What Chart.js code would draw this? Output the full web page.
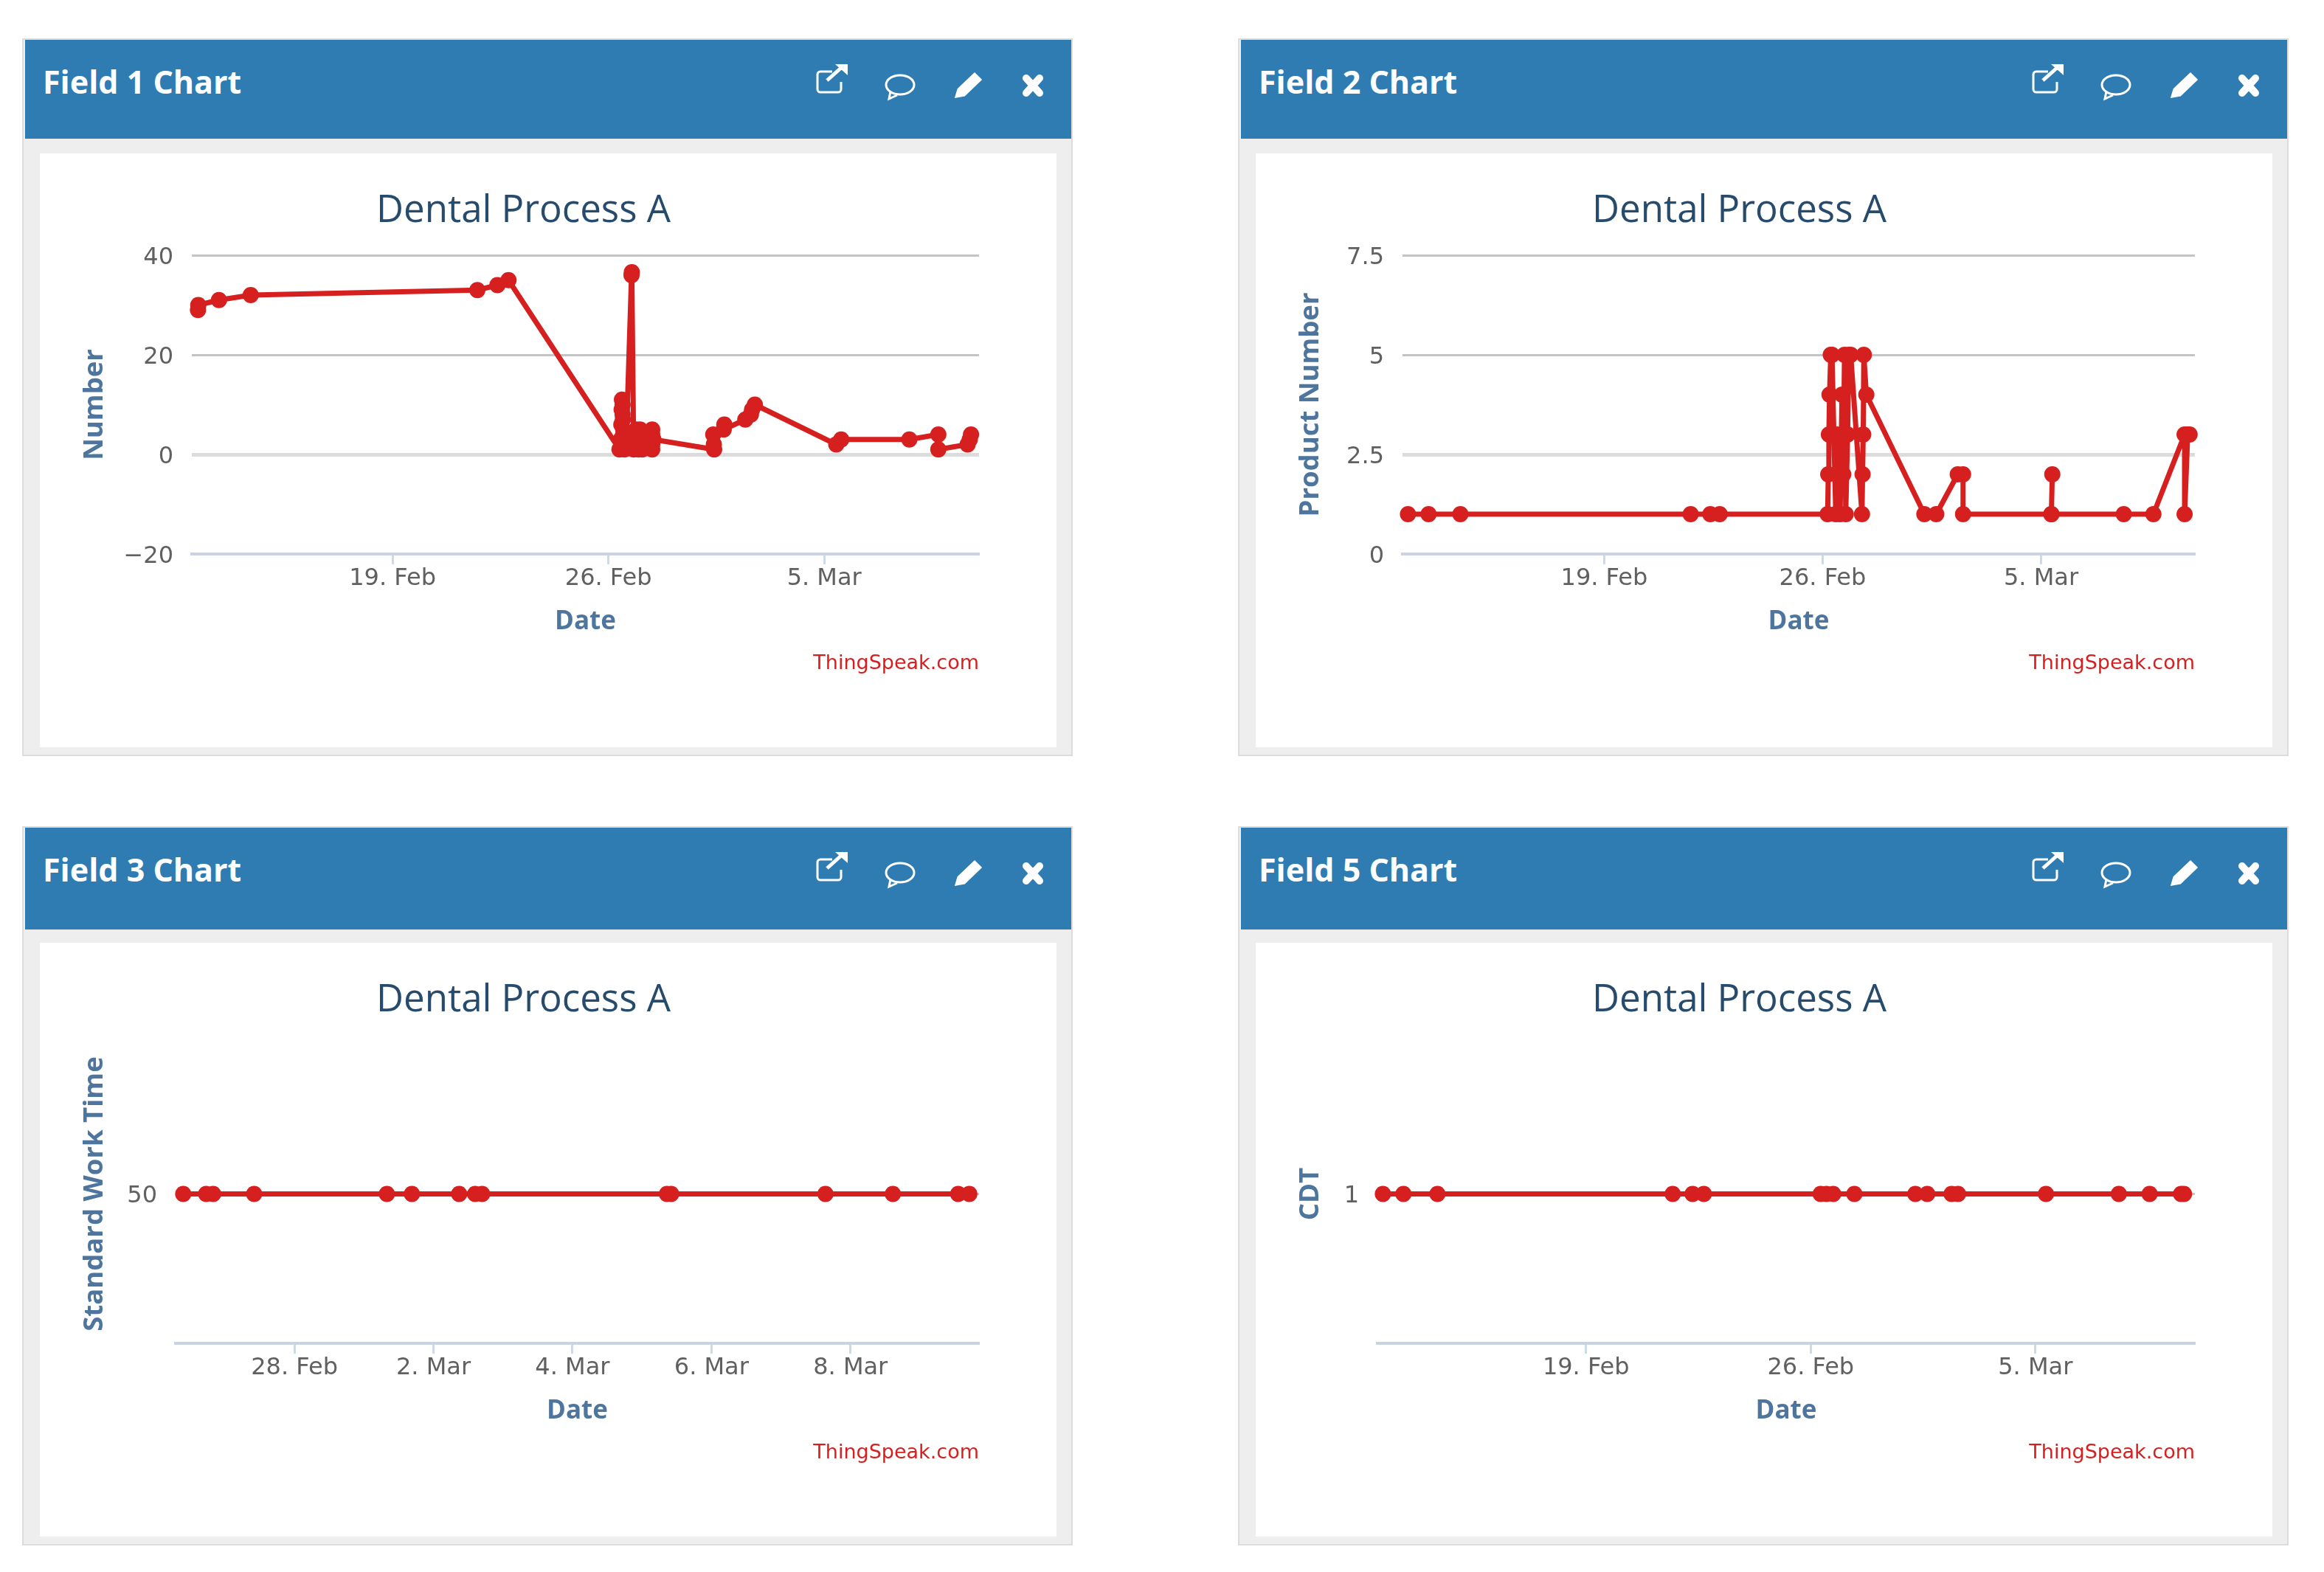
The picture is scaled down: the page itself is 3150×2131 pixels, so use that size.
<!DOCTYPE html>
<html>
<head>
<meta charset="utf-8">
<title>Dental Process A</title>
<script src="https://cdn.jsdelivr.net/npm/chart.js@4"></script>
<style>
  body { margin: 0; background: #fff; font-family: "Open Sans", sans-serif; }
  .panel { position: absolute; width: 1420px; background: #eeeeee; border: 2px solid #dcdcdc; }
  .head { position: absolute; left: 2px; top: 0; width: 1418px; background: #2e7cb1; }
  .head span { position: absolute; left: 24px; top: 30px; color: #fff; font-weight: 700; font-size: 43px; line-height: 54px; }
  .head svg { position: absolute; left: 0; top: 0; }
  .body { position: absolute; left: 22px; width: 1378px; height: 805px; background: #fff; }
  .credit { position: absolute; right: 105px; top: 672px; font-family: "DejaVu Sans", sans-serif; font-size: 27px; line-height: 36px; color: #d62020; }
  canvas { position: absolute; left: 0; top: 0; }
</style>
</head>
<body>
<script>
// days are counted from 1 Feb, so 5 Mar = 33
let field1Days = [12.69, 12.7, 13.37, 14.4, 21.75, 22.4, 22.76, 26.36, 26.4, 26.42, 26.43, 26.44, 26.46, 26.46, 26.47, 26.48, 26.48, 26.5, 26.52, 26.58, 26.75, 26.76, 26.82, 26.85, 26.88, 26.9, 26.93, 26.97, 27.0, 27.03, 27.06, 27.08, 27.1, 27.42, 27.42, 27.42, 27.42, 27.42, 27.46, 29.43, 29.42, 29.4, 29.76, 29.74, 30.44, 30.62, 30.66, 30.75, 33.39, 33.55, 35.76, 36.7, 36.7, 37.65, 37.72, 37.76];
let field1Values = [29, 30, 31, 32, 33, 34, 35, 1, 3, 6, 9, 11, 10, 8, 7, 5, 4, 2, 1, 3, 36, 36.6, 1, 2, 4, 5, 3, 1, 3, 5, 4, 2, 1, 1, 2, 3, 4, 5, 3, 1, 2, 4, 6, 5, 7, 8, 9, 10, 2, 3, 3, 4, 1, 2, 3, 4];
let field1YTicks = [-20, 0, 20, 40];
let field1YLabels = ['\u221220', '0', '20', '40'];
let field1XTicks = [19, 26, 33];
let field1XLabels = ['19. Feb', '26. Feb', '5. Mar'];

let field2Days = [12.71, 13.37, 14.39, 21.77, 22.4, 22.7, 26.16, 26.18, 26.2, 26.22, 26.26, 26.3, 26.42, 26.46, 26.5, 26.56, 26.62, 26.66, 26.7, 26.74, 26.8, 26.84, 26.9, 27.26, 27.28, 27.3, 27.32, 27.4, 29.26, 29.64, 30.33, 30.5, 30.5, 33.33, 33.36, 33.33, 35.65, 36.6, 37.6, 37.6, 37.7, 37.76];
let field2Values = [1, 1, 1, 1, 1, 1, 1, 2, 3, 4, 5, 5, 1, 3, 2, 1, 4, 2, 5, 1, 3, 5, 5, 1, 2, 3, 5, 4, 1, 1, 2, 2, 1, 1, 2, 1, 1, 1, 3, 1, 3, 3];
let field2YTicks = [0, 2.5, 5, 7.5];
let field2YLabels = ['0', '2.5', '5', '7.5'];
let field2XTicks = [19, 26, 33];
let field2XLabels = ['19. Feb', '26. Feb', '5. Mar'];

let field3Days = [26.4, 26.73, 26.83, 27.42, 29.33, 29.69, 30.37, 30.6, 30.7, 33.36, 33.42, 35.64, 36.61, 37.55, 37.71];
let field3Values = [50, 50, 50, 50, 50, 50, 50, 50, 50, 50, 50, 50, 50, 50, 50];
let field3YTicks = [50];
let field3YLabels = ['50'];
let field3XTicks = [28, 30, 32, 34, 36];
let field3XLabels = ['28. Feb', '2. Mar', '4. Mar', '6. Mar', '8. Mar'];

let field5Days = [12.67, 13.31, 14.37, 21.7, 22.32, 22.67, 26.31, 26.49, 26.7, 27.36, 29.26, 29.63, 30.39, 30.59, 33.33, 35.6, 36.56, 37.54, 37.63];
let field5Values = [1, 1, 1, 1, 1, 1, 1, 1, 1, 1, 1, 1, 1, 1, 1, 1, 1, 1, 1];
let field5YTicks = [1];
let field5YLabels = ['1'];
let field5XTicks = [19, 26, 33];
let field5XLabels = ['19. Feb', '26. Feb', '5. Mar'];

const lineRed = '#d62020';

// icons of the panel header, x/y relative to the header
const headIcons = `<svg width="1418" height="140" fill="none" stroke="#fff">
  <path d="M1094 43 h-16 a4 4 0 0 0 -4 4 v20 a4 4 0 0 0 4 4 h24 a4 4 0 0 0 4 -4 v-10" stroke-width="3"/>
  <path d="M1087 55 L1106 38" stroke-width="5"/>
  <path d="M1098 33 h17 v15 z" fill="#fff" stroke="none"/>
  <ellipse cx="1186" cy="61" rx="19" ry="13" stroke-width="3"/>
  <path d="M1173 70 l-2 10 l11 -5" stroke-width="3"/>
  <path d="M1262 77 l3 -10 l22 -21 l8 8 l-22 21 z" fill="#fff" stroke="#fff" stroke-width="3"/>
  <path d="M1357 52 L1375 72 M1375 52 L1357 72" stroke-width="10" stroke-linecap="round"/>
</svg>`;

function addPanel(left, top, extra, name, yTitle, days, values, yTicks, yLabels, xTicks, xLabels, yMin, yMax, xMin, xMax, yBox, softTick) {
  let panel = document.createElement('div');
  panel.className = 'panel';
  panel.style.left = left + 'px';
  panel.style.top = (top - extra) + 'px';
  panel.style.height = (969 + extra) + 'px';
  panel.innerHTML = '<div class="head" style="height:' + (134 + extra * 2) + 'px"><span>' + name + '</span>' + headIcons + '</div>'
    + '<div class="body" style="top:' + (154 + extra) + 'px"><canvas width="1310" height="805"></canvas><div class="credit">ThingSpeak.com</div></div>';
  document.body.appendChild(panel);

  new Chart(panel.querySelector('canvas'), {
    type: 'line',
    data: {
      datasets: [{
        data: days.map((d, i) => ({ x: d, y: values[i] })),
        borderColor: lineRed,
        backgroundColor: lineRed,
        borderWidth: 7,
        borderJoinStyle: 'round',
        pointRadius: 11,
        pointBorderWidth: 0,
        tension: 0,
        clip: false
      }]
    },
    options: {
      responsive: false,
      devicePixelRatio: 1,
      animation: false,
      layout: { padding: { left: 38, right: 37 } },
      plugins: {
        legend: { display: false },
        tooltip: { enabled: false },
        title: {
          display: true,
          text: 'Dental Process A',
          color: '#274b6d',
          font: { family: 'Open Sans', size: 51, weight: 'normal', lineHeight: 1.2 },
          padding: { top: 48, bottom: 28.8 }
        }
      },
      scales: {
        x: {
          type: 'linear',
          min: xMin,
          max: xMax,
          afterBuildTicks: axis => { axis.ticks = xTicks.map(v => ({ value: v })); },
          afterFit: axis => { axis.height = 262; },
          border: { color: '#c8d4e2', width: 4 },
          grid: { drawOnChartArea: false, tickLength: 14, tickColor: '#d0dae6', tickWidth: 3 },
          ticks: {
            autoSkip: false,
            maxRotation: 0,
            padding: 0,
            color: '#606060',
            font: { family: 'DejaVu Sans', size: 32 },
            callback: (v, i) => xLabels[i]
          },
          title: {
            display: true,
            text: 'Date',
            color: '#4d759e',
            font: { family: 'Open Sans', size: 35, weight: 'bold', lineHeight: 1.2 },
            padding: { top: 0, bottom: 149 }
          }
        },
        y: {
          min: yMin,
          max: yMax,
          afterBuildTicks: axis => { axis.ticks = yTicks.map(v => ({ value: v })); },
          afterFit: axis => { axis.width = yBox - 38; },
          border: { display: false },
          grid: {
            drawTicks: false,
            lineWidth: c => c.tick && c.tick.value === softTick ? 5 : 3,
            color: c => c.tick && c.tick.value === softTick ? '#dcdcdc' : '#c4c4c4'
          },
          ticks: {
            autoSkip: false,
            padding: 25,
            color: '#606060',
            // two-line label with a short line height: moves the text a few px down
            font: { family: 'DejaVu Sans', size: 32, lineHeight: 0.22 },
            callback: (v, i) => ['', yLabels[i]]
          },
          title: {
            display: true,
            text: yTitle,
            color: '#4d759e',
            font: { family: 'Open Sans', size: 36.5, weight: 'bold', lineHeight: 1.2 },
            padding: { top: 15, bottom: 0 }
          }
        }
      }
    }
  });
}

addPanel(30, 52, 0, 'Field 1 Chart', 'Number', field1Days, field1Values, field1YTicks, field1YLabels, field1XTicks, field1XLabels, -20, 40, 12.49, 38.02, 206, 0);
addPanel(1678, 52, 0, 'Field 2 Chart', 'Product Number', field2Days, field2Values, field2YTicks, field2YLabels, field2XTicks, field2XLabels, 0, 7.5, 12.535, 37.93, 199, 2.5);
addPanel(30, 1122, 2, 'Field 3 Chart', 'Standard Work Time', field3Days, field3Values, field3YTicks, field3YLabels, field3XTicks, field3XLabels, 0, 100, 26.29, 37.85, 184, null);
addPanel(1678, 1122, 2, 'Field 5 Chart', 'CDT', field5Days, field5Values, field5YTicks, field5YLabels, field5XTicks, field5XLabels, 0, 2, 12.5, 37.97, 165, null);
</script>
</body>
</html>
